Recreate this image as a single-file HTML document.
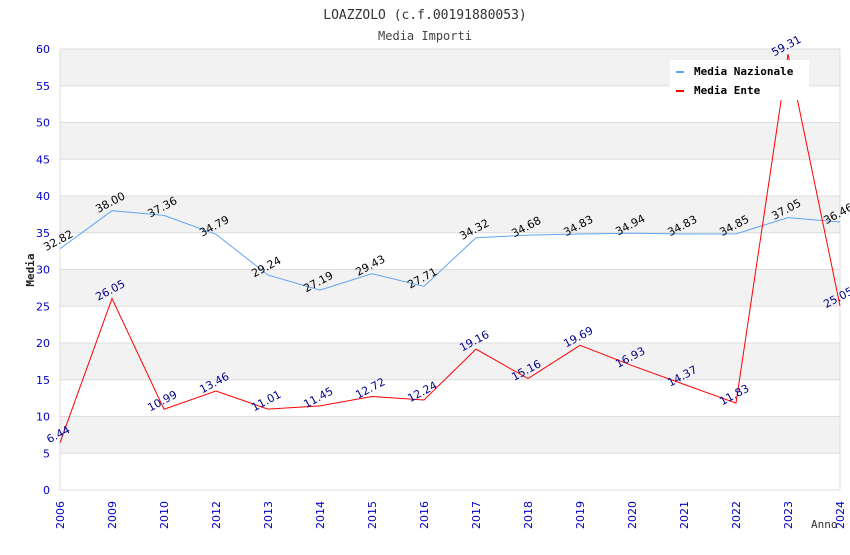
<!DOCTYPE html>
<html><head><meta charset="utf-8"><style>
body{margin:0;background:#fff}
.mono{font-family:"DejaVu Sans Mono","Liberation Mono",monospace}
.sans{font-family:"DejaVu Sans","Liberation Sans",sans-serif}
</style></head><body>
<svg id="chart" width="850" height="550" xmlns="http://www.w3.org/2000/svg">
<text class="mono" x="425" y="19" text-anchor="middle" font-size="13" fill="#333">LOAZZOLO (c.f.00191880053)</text>
<text class="mono" x="425" y="40" text-anchor="middle" font-size="12" fill="#444">Media Importi</text>
<g id="bands"></g><g id="grid"></g><g id="yticks"></g><g id="xticks"></g>
<g id="series"></g><g id="labels"></g>
<text class="mono" transform="translate(34,270) rotate(-90)" text-anchor="middle" font-size="11" font-weight="bold" fill="#222">Media</text>
<text class="mono" x="811" y="528" font-size="11" fill="#333">Anno</text>
<g>
<rect x="670" y="60" width="139" height="40" fill="#fff"/>
<rect x="676" y="71" width="8" height="2" fill="#5ea5f0"/>
<text class="mono" x="694" y="75" font-size="11" font-weight="bold" fill="#000">Media Nazionale</text>
<rect x="676" y="90" width="8" height="2" fill="#f00"/>
<text class="mono" x="694" y="94" font-size="11" font-weight="bold" fill="#000">Media Ente</text>
</g>
</svg>
<script>
const years=["2006","2009","2010","2012","2013","2014","2015","2016","2017","2018","2019","2020","2021","2022","2023","2024"];
const nazionale=[32.82,38.00,37.36,34.79,29.24,27.19,29.43,27.71,34.32,34.68,34.83,34.94,34.83,34.85,37.05,36.46];
const ente=[6.44,26.05,10.99,13.46,11.01,11.45,12.72,12.24,19.16,15.16,19.69,16.93,14.37,11.83,59.31,25.05];
const yTicks=[0,5,10,15,20,25,30,35,40,45,50,55,60];
const L=60,R=840,T=49,B=490,yMax=60;
const xs=i=>L+i*(R-L)/(years.length-1);
const ys=v=>B-v*(B-T)/yMax;
const NS="http://www.w3.org/2000/svg";
function mk(p,tag,a){const e=document.createElementNS(NS,tag);for(const k in a)e.setAttribute(k,a[k]);document.getElementById(p).appendChild(e);return e;}
for(let k=1;k<yTicks.length-1;k+=2){
 const r=mk("bands","rect",{x:L,y:ys(yTicks[k+1]),width:R-L,height:ys(yTicks[k])-ys(yTicks[k+1]),fill:"#f2f2f2"});
 
 
}
yTicks.forEach(v=>{
 const l=mk("grid","line",{x1:L,x2:R,y1:ys(v),y2:ys(v),stroke:"#ddd","stroke-width":1});
 
 
 const t=mk("yticks","text",{x:50,y:ys(v)+4,"text-anchor":"end","font-size":11,fill:"#00c",class:"sans"});
 t.textContent=v;
 
 
});
mk("grid","line",{x1:L,x2:L,y1:T,y2:B,stroke:"#ddd"});
mk("grid","line",{x1:R,x2:R,y1:T,y2:B,stroke:"#ddd"});
years.forEach((y,i)=>{
 const t=mk("xticks","text",{transform:`translate(${xs(i)+4},529) rotate(-90)`,"font-size":11,fill:"#00c",class:"sans"});
 t.textContent=y;
 
 
});
function series(vals,color,name,lc){
 const p=mk("series","polyline",{points:vals.map((v,i)=>xs(i)+","+ys(v)).join(" "),fill:"none",stroke:color,"stroke-width":1});
 
 
 vals.forEach((v,i)=>{
  const t=mk("labels","text",{transform:`translate(${xs(i)},${ys(v)-5}) rotate(-28)`,"text-anchor":"middle","font-size":11,fill:lc,class:"sans"});
  t.textContent=v.toFixed(2);
  
  
 });
}
series(nazionale,"#5ea5f0","line-media-nazionale","#000");
series(ente,"#f00","line-media-ente","#00008b");
</script>
</body></html>
